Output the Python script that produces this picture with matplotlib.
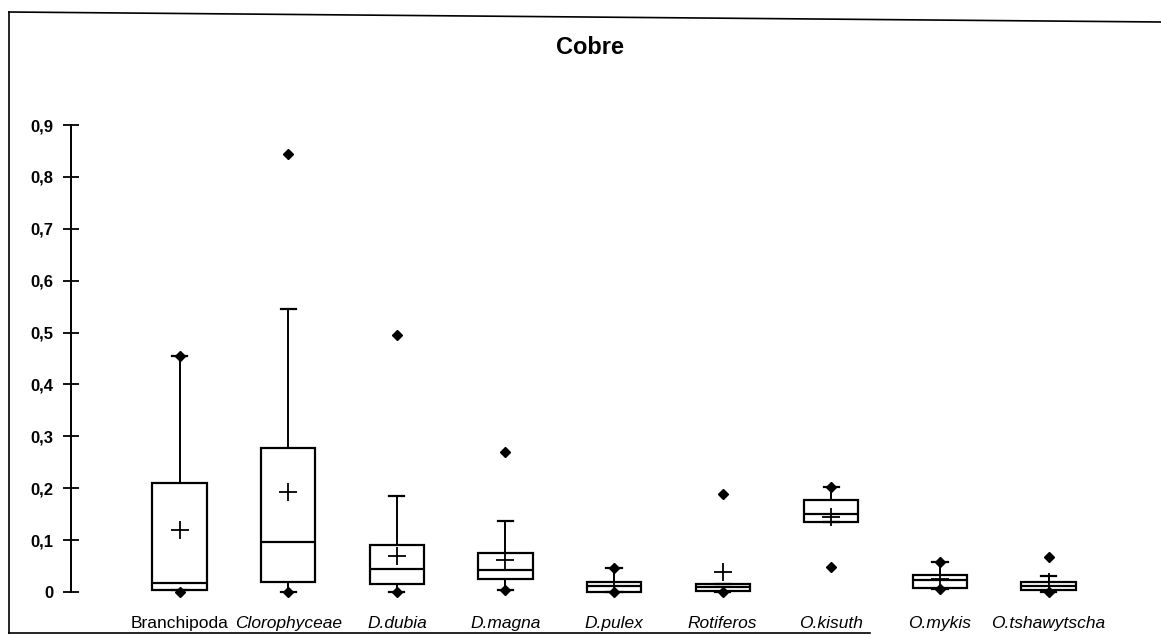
import matplotlib
matplotlib.use("Agg")
import matplotlib.pyplot as plt
from matplotlib.lines import Line2D

# values (copper)
species = ["Branchipoda", "Clorophyceae", "D.dubia", "D.magna", "D.pulex",
           "Rotiferos", "O.kisuth", "O.mykis", "O.tshawytscha"]
italic = [False, True, True, True, True, True, True, True, True]
q1 = [0.004, 0.020, 0.016, 0.026, 0.000, 0.002, 0.134, 0.007, 0.004]
med = [0.018, 0.096, 0.045, 0.042, 0.012, 0.010, 0.150, 0.023, 0.012]
q3 = [0.211, 0.278, 0.090, 0.075, 0.019, 0.015, 0.177, 0.033, 0.019]
mean = [0.120, 0.193, 0.070, 0.062, 0.012, 0.039, 0.145, 0.025, 0.020]
whis_lo = [0.004, 0.000, 0.000, 0.003, 0.000, 0.000, 0.134, 0.005, 0.000]
whis_hi = [0.455, 0.545, 0.185, 0.136, 0.046, 0.015, 0.203, 0.058, 0.030]
points = [[0.455, 0.0], [0.845, 0.0], [0.495, 0.0], [0.269, 0.003], [0.046, 0.0],
          [0.189, 0.0], [0.203, 0.049], [0.058, 0.005], [0.068, 0.0]]
yticks = [0, 0.1, 0.2, 0.3, 0.4, 0.5, 0.6, 0.7, 0.8, 0.9]
ytick_labels = ["0", "0,1", "0,2", "0,3", "0,4", "0,5", "0,6", "0,7", "0,8", "0,9"]

plt.rcParams["font.family"] = ["Liberation Sans", "DejaVu Sans"]

fig = plt.figure(figsize=(11.61, 6.37), dpi=100)
ax = fig.add_axes([71 / 1161, 45 / 637, 1059 / 1161, 467 / 637])

stats = []
for i, name in enumerate(species):
    stats.append({"label": name, "q1": q1[i], "med": med[i], "q3": q3[i],
                  "mean": mean[i], "whislo": whis_lo[i], "whishi": whis_hi[i],
                  "fliers": points[i]})

pos = list(range(1, len(species) + 1))
art = ax.bxp(stats, positions=pos, widths=0.5, showmeans=True, showcaps=True,
             capwidths=0.14, patch_artist=True,
             boxprops=dict(facecolor="white", edgecolor="black", lw=1.6),
             medianprops=dict(color="black", lw=1.6),
             whiskerprops=dict(color="black", lw=1.4),
             capprops=dict(color="black", lw=1.6),
             meanprops=dict(marker="+", markersize=13, markeredgewidth=1.3,
                            color="black", markeredgecolor="black"),
             flierprops=dict(marker="D", markersize=5.5, markerfacecolor="black",
                             markeredgecolor="black"))
for group in art.values():
    for a in group:
        a.set_clip_on(False)

ax.set_xlim(0, 9.75)
ax.set_ylim(0, 0.9)
ax.set_yticks(yticks)
ax.set_yticklabels(ytick_labels, fontsize=12, fontweight="bold")
ax.tick_params(axis="y", direction="inout", length=11, width=1.3, pad=7)
ax.tick_params(axis="x", length=0, pad=17)
for sp in ["top", "right", "bottom"]:
    ax.spines[sp].set_visible(False)
ax.spines["left"].set_linewidth(1.4)

ax.set_xticks(pos)
ax.set_xticklabels(species, fontsize=12.5)
for lbl, it in zip(ax.get_xticklabels(), italic):
    if it:
        lbl.set_style("italic")

fig.text(590 / 1161, 1 - 48 / 637, "Cobre", ha="center", va="center",
         fontsize=17, fontweight="bold")

# scanned frame around the chart
fig.add_artist(Line2D([9 / 1161, 9 / 1161], [1 - 12 / 637, 1 - 633 / 637],
                      transform=fig.transFigure, color="black", lw=1.2))
fig.add_artist(Line2D([9 / 1161, 1.0], [1 - 12 / 637, 1 - 22 / 637],
                      transform=fig.transFigure, color="black", lw=1.2))
fig.add_artist(Line2D([9 / 1161, 870 / 1161], [1 - 633 / 637, 1 - 633 / 637],
                      transform=fig.transFigure, color="black", lw=1.2))

fig.savefig("out.png", dpi=100)
